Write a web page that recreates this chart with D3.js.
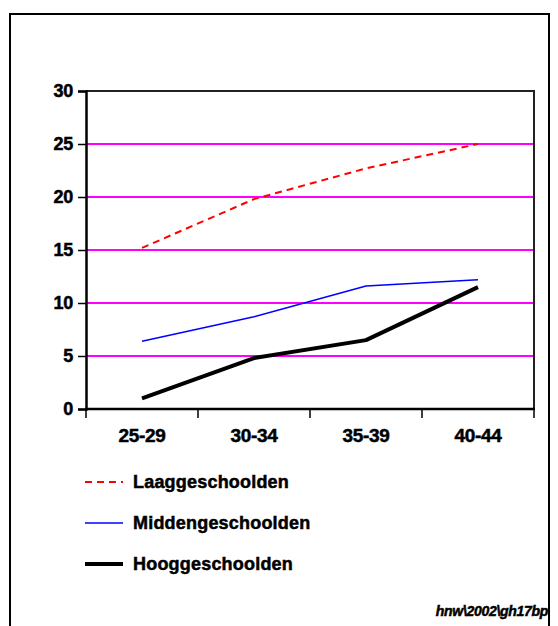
<!DOCTYPE html>
<html>
<head>
<meta charset="utf-8">
<script src="https://cdn.jsdelivr.net/npm/d3@7"></script>
<style>
  html, body { margin: 0; padding: 0; background: #fff; }
  svg { display: block; }
  text { font-family: "Liberation Sans", Arial, sans-serif; font-weight: bold; fill: #000; stroke: #000; stroke-width: 0.5px; }
</style>
</head>
<body>
<svg id="chart" width="558" height="626"></svg>
<script>
// Age groups on the x axis
const categories = ["25-29", "30-34", "35-39", "40-44"];

// Values per education level
const laag   = [15.2, 19.8, 22.7, 25.0];
const midden = [6.4, 8.7, 11.6, 12.2];
const hoog   = [1.0, 4.8, 6.5, 11.5];

const yTicks = [0, 5, 10, 15, 20, 25, 30];
const seriesNames = ["Laaggeschoolden", "Middengeschoolden", "Hooggeschoolden"];
const footer = "hnw\\2002\\gh17bp";

const series = [
  { name: seriesNames[0], values: laag,   color: "#ff0000", width: 2,   dash: "7,5" },
  { name: seriesNames[1], values: midden, color: "#0000ff", width: 1.6, dash: null },
  { name: seriesNames[2], values: hoog,   color: "#000000", width: 4,   dash: null }
];

const svg = d3.select("#chart");

// Outer frame (open at the bottom)
svg.append("path")
  .attr("d", "M10,640 L10,14 L549,14 L549,640")
  .attr("fill", "none")
  .attr("stroke", "#000")
  .attr("stroke-width", 2);

const plot = { left: 86, right: 534, top: 91, bottom: 409 };

const x = d3.scaleBand().domain(categories).range([plot.left, plot.right]);
const y = d3.scaleLinear().domain([0, 30]).range([plot.bottom, plot.top]);

// Horizontal gridlines
svg.append("g")
  .selectAll("line")
  .data(yTicks.filter(t => t > 0 && t < 30))
  .join("line")
  .attr("x1", plot.left).attr("x2", plot.right)
  .attr("y1", d => y(d)).attr("y2", d => y(d))
  .attr("stroke", "#ff00ff")
  .attr("stroke-width", 2);

// Top and right edges of the plot area
svg.append("path")
  .attr("d", `M${plot.left},${y(30)} L${plot.right},${y(30)} L${plot.right},${plot.bottom}`)
  .attr("fill", "none")
  .attr("stroke", "#222")
  .attr("stroke-width", 2);

// Y axis
const yAxis = svg.append("g")
  .attr("transform", `translate(${plot.left},0)`)
  .call(d3.axisLeft(y).tickValues(yTicks).tickSize(8).tickPadding(5).tickFormat(d3.format("d")));
yAxis.select(".domain").attr("stroke", "#000").attr("stroke-width", 2.5);
yAxis.selectAll(".tick line").attr("stroke", "#000").attr("stroke-width", 1.5);
yAxis.selectAll(".tick text")
  .attr("font-size", 18).attr("font-family", "Liberation Sans, Arial, sans-serif")
  .attr("font-weight", "bold").attr("fill", "#000").attr("letter-spacing", "-0.2");

// X axis with ticks on band boundaries
const xAxis = svg.append("g")
  .attr("transform", `translate(0,${plot.bottom})`)
  .call(d3.axisBottom(x).tickSize(0).tickPadding(20));
xAxis.select(".domain").remove();
xAxis.selectAll(".tick text")
  .attr("font-size", 19).attr("font-family", "Liberation Sans, Arial, sans-serif")
  .attr("font-weight", "bold").attr("fill", "#000").attr("letter-spacing", "-0.3");
svg.append("line")
  .attr("x1", plot.left - 1).attr("x2", plot.right + 1)
  .attr("y1", plot.bottom).attr("y2", plot.bottom)
  .attr("stroke", "#000").attr("stroke-width", 2.5);
const bounds = categories.map(c => x(c)).concat([x(categories[categories.length - 1]) + x.bandwidth()]);
svg.append("g").selectAll("line")
  .data(bounds)
  .join("line")
  .attr("x1", d => d).attr("x2", d => d)
  .attr("y1", plot.bottom).attr("y2", plot.bottom + 9)
  .attr("stroke", "#000").attr("stroke-width", 1.5);

// Series lines
const line = d3.line()
  .x((d, i) => x(categories[i]) + x.bandwidth() / 2)
  .y(d => y(d));

svg.append("g").selectAll("path")
  .data(series)
  .join("path")
  .attr("d", s => line(s.values))
  .attr("fill", "none")
  .attr("stroke", s => s.color)
  .attr("stroke-width", s => s.width)
  .attr("stroke-dasharray", s => s.dash)
  .attr("stroke-linejoin", "round");

// Legend
const legendY = [482, 523, 564];
const lg = svg.append("g").selectAll("g")
  .data(series)
  .join("g")
  .attr("transform", (s, i) => `translate(0,${legendY[i]})`);
lg.append("line")
  .attr("x1", 85).attr("x2", 123)
  .attr("y1", 0).attr("y2", 0)
  .attr("stroke", s => s.color)
  .attr("stroke-width", s => s.width)
  .attr("stroke-dasharray", s => s.dash);
lg.append("text")
  .attr("x", 133).attr("y", 0)
  .attr("dy", "0.36em")
  .attr("font-size", 18)
  .attr("letter-spacing", "0.2")
  .text(s => s.name);

// Footer reference
svg.append("text")
  .attr("x", 548).attr("y", 616)
  .attr("text-anchor", "end")
  .attr("font-size", 14)
  .attr("font-style", "italic")
  .attr("letter-spacing", "-0.3")
  .text(footer);
</script>
</body>
</html>
